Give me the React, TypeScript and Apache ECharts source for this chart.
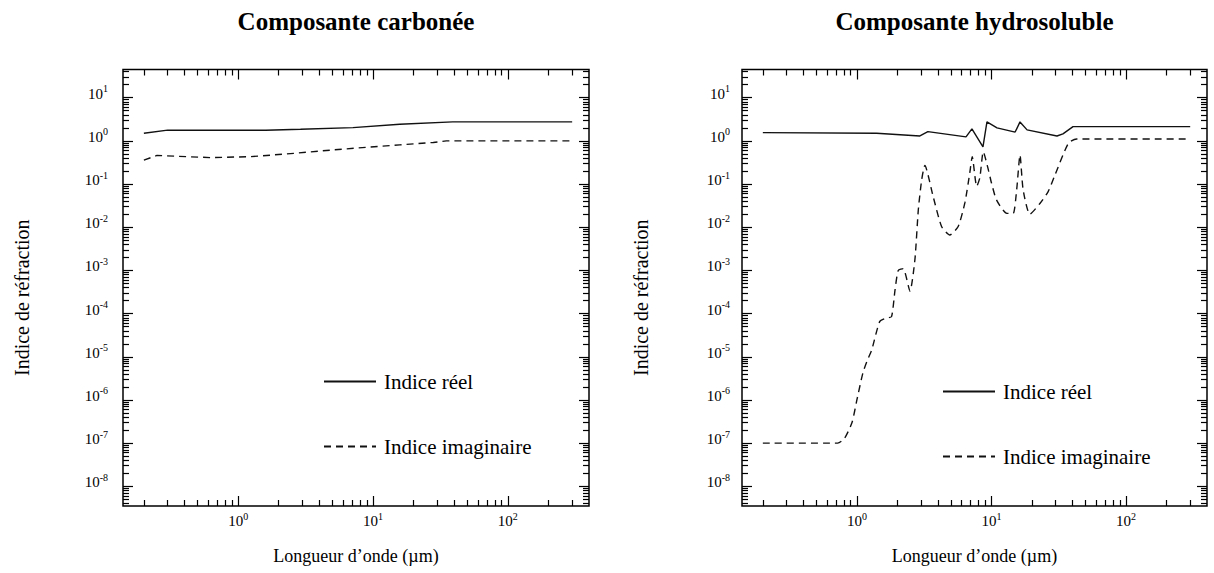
import React, { useEffect, useRef } from "react";
import * as echarts from "echarts";

const FONT = "Liberation Serif";

// ---- data (wavelength µm, refractive index) ----
const carbonReal: [number, number][] = [
  [0.2, 1.5], [0.3, 1.77], [1.6, 1.77], [2.9, 1.86], [7.1, 2.03], [15.8, 2.43], [39, 2.75], [300, 2.75],
];
const carbonImag: [number, number][] = [
  [0.2, 0.36], [0.25, 0.46], [0.62, 0.41], [1.23, 0.43], [2.7, 0.52], [5.1, 0.62], [9, 0.71], [15.8, 0.81],
  [28, 0.92], [35, 1.0], [300, 1.0],
];
const waterReal: [number, number][] = [
  [0.2, 1.55], [1.4, 1.5], [2.94, 1.3], [3.37, 1.64], [6.47, 1.24], [7.16, 1.9], [8.65, 0.73], [9.26, 2.75],
  [11, 2.0], [15, 1.6], [16.3, 2.75], [18.4, 1.8], [30.7, 1.3], [34, 1.45], [40.4, 2.14], [300, 2.14],
];
const waterImag: [number, number][] = [
  [0.2, 1e-7], [0.72, 1e-7], [0.81, 1.3e-7], [0.92, 3e-7], [1.0, 1e-6], [1.11, 4.3e-6], [1.2, 8.5e-6],
  [1.29, 1.45e-5], [1.48, 6.6e-5], [1.66, 7.9e-5], [1.81, 8.5e-5], [1.92, 3.5e-4], [2.03, 1e-3], [2.21, 1.1e-3],
  [2.48, 3.3e-4], [2.7, 1.8e-3], [2.86, 0.025], [3.03, 0.125], [3.2, 0.27], [3.69, 0.051], [4.26, 0.0104],
  [4.9, 0.0066], [5.66, 0.0104], [6.35, 0.037], [6.9, 0.18], [7.2, 0.43], [7.77, 0.088], [8.2, 0.14],
  [8.7, 0.56], [9.5, 0.21], [10, 0.107], [10.9, 0.043], [13, 0.021], [14.5, 0.021], [15.4, 0.074],
  [16.3, 0.47], [17.2, 0.074], [19.3, 0.02], [23, 0.036], [26.4, 0.067], [29.6, 0.16], [37.3, 0.88],
  [43, 1.11], [300, 1.11],
];

const titles = ["Composante carbonée", "Composante hydrosoluble"];
const seriesNames = ["Indice réel", "Indice imaginaire"];
const xName = "Longueur d\u2019onde (\u00b5m)";
const yName = "Indice de réfraction";

// ---- axis ranges and ticks ----
const X_MIN = 0.14, X_MAX = 400, Y_MIN = 3.5e-9, Y_MAX = 45;
const xMajor = [1, 10, 100];
const yMajor = [1e-8, 1e-7, 1e-6, 1e-5, 1e-4, 1e-3, 1e-2, 1e-1, 1, 10];
const mults = [2, 3, 4, 5, 6, 7, 8, 9];
const xDecades = [0.1, 1, 10, 100];
const yDecades = [1e-9, 1e-8, 1e-7, 1e-6, 1e-5, 1e-4, 1e-3, 1e-2, 1e-1, 1, 10];
const xMinor = xDecades.flatMap((d) => mults.map((m) => Number((m * d).toPrecision(6)))).filter((v) => v > X_MIN && v < X_MAX);
const yMinor = yDecades.flatMap((d) => mults.map((m) => Number((m * d).toPrecision(6)))).filter((v) => v > Y_MIN && v < Y_MAX);

const grids = [
  { left: 123, top: 69.5, width: 466, height: 436.5 },
  { left: 742, top: 69.5, width: 465, height: 436.5 },
];
const legendPos = [
  { left: 323, top: 371 },
  { left: 942, top: 381 },
];
const yLabelMargin = [15, 12];

const expFmt = (v: number) => `{b|10}{s|${Math.round(Math.log10(v))}}`;
const tickLine = { color: "#000", width: 1.2 };

function makeXAxes(gi: number) {
  const base: any = {
    type: "log", logBase: 10, gridIndex: gi, min: X_MIN, max: X_MAX,
    axisLine: { show: false }, splitLine: { show: false }, minorTick: { show: false }, minorSplitLine: { show: false },
  };
  const major = { show: true, inside: true, length: 10, customValues: xMajor, lineStyle: tickLine };
  const minor = { show: true, inside: true, length: 6, customValues: xMinor, lineStyle: tickLine };
  return [
    {
      ...base, position: "bottom", axisTick: major,
      axisLabel: {
        show: true, customValues: xMajor, formatter: expFmt, margin: 5,
        rich: {
          b: { fontSize: 15, fontFamily: FONT, color: "#000" },
          s: { fontSize: 10, fontFamily: FONT, color: "#000", padding: [0, 0, 10, 0] },
        },
      },
      name: xName, nameLocation: "middle", nameGap: 41,
      nameTextStyle: { fontSize: 18, fontFamily: FONT, color: "#000" },
    },
    { ...base, position: "bottom", axisTick: minor, axisLabel: { show: false } },
    { ...base, position: "top", axisTick: major, axisLabel: { show: false } },
    { ...base, position: "top", axisTick: minor, axisLabel: { show: false } },
  ];
}

function makeYAxes(gi: number) {
  const base: any = {
    type: "log", logBase: 10, gridIndex: gi, min: Y_MIN, max: Y_MAX,
    axisLine: { show: false }, splitLine: { show: false }, minorTick: { show: false }, minorSplitLine: { show: false },
  };
  const major = { show: true, inside: true, length: 10, customValues: yMajor, lineStyle: tickLine };
  const minor = { show: true, inside: true, length: 6, customValues: yMinor, lineStyle: tickLine };
  return [
    {
      ...base, position: "left", axisTick: major,
      axisLabel: {
        show: true, customValues: yMajor, formatter: expFmt, margin: yLabelMargin[gi],
        rich: {
          b: { fontSize: 15, fontFamily: FONT, color: "#000", padding: [0, 0, 8, 0] },
          s: { fontSize: 10, fontFamily: FONT, color: "#000", padding: [0, 0, 18, 0] },
        },
      },
      name: yName, nameLocation: "middle", nameGap: 91, nameRotate: 90,
      nameTextStyle: { fontSize: 20, fontFamily: FONT, color: "#000", padding: [0, 20, 0, 0] },
    },
    { ...base, position: "left", axisTick: minor, axisLabel: { show: false } },
    { ...base, position: "right", axisTick: major, axisLabel: { show: false } },
    { ...base, position: "right", axisTick: minor, axisLabel: { show: false } },
  ];
}

const solid = { color: "#111", width: 1.4, type: "solid" };
const dashed = { color: "#111", width: 1.4, type: [7, 5] };

function lineSeries(name: string, data: [number, number][], gi: number, style: any, smooth: number | boolean) {
  return {
    type: "line", name, data, xAxisIndex: gi * 4, yAxisIndex: gi * 4,
    symbol: "none", showSymbol: false, smooth, lineStyle: style, itemStyle: { color: "#111" },
  };
}

export default function App() {
  const ref = useRef<HTMLDivElement>(null);
  useEffect(() => {
    const chart = echarts.init(ref.current!, null, { renderer: "svg" });
    const option: any = {
      animation: false,
      backgroundColor: "#fff",
      textStyle: { fontFamily: FONT, color: "#000" },
      title: titles.map((t, i) => ({
        text: t,
        left: grids[i].left + grids[i].width / 2,
        top: 9,
        textAlign: "center",
        padding: 0,
        textStyle: { fontSize: 25, fontWeight: "bold", fontFamily: FONT, color: "#000" },
      })),
      grid: grids.map((g) => ({
        ...g, show: true, borderColor: "#000", borderWidth: 1.5, backgroundColor: "transparent",
        containLabel: false, outerBoundsMode: "none",
      })),
      legend: legendPos.map((p) => ({
        ...p, orient: "vertical", padding: 0, itemWidth: 52, itemHeight: 12, itemGap: 44,
        data: seriesNames.map((n) => ({ name: n, textStyle: { fontFamily: FONT, fontSize: 21, color: "#000" } })),
        selectedMode: false,
        itemStyle: { opacity: 0 },
        textStyle: { fontSize: 21, fontFamily: FONT, color: "#000", padding: [0, 0, 0, 3] },
      })),
      xAxis: [...makeXAxes(0), ...makeXAxes(1)],
      yAxis: [...makeYAxes(0), ...makeYAxes(1)],
      series: [
        lineSeries(seriesNames[0], carbonReal, 0, solid, false),
        lineSeries(seriesNames[1], carbonImag, 0, dashed, false),
        lineSeries(seriesNames[0], waterReal, 1, solid, false),
        lineSeries(seriesNames[1], waterImag, 1, dashed, 0.2),
      ],
    };
    chart.setOption(option);
    return () => chart.dispose();
  }, []);
  return (
    <div
      ref={ref}
      style={{ position: "absolute", left: 0, top: 0, width: 1214, height: 573, background: "#fff" }}
    />
  );
}
